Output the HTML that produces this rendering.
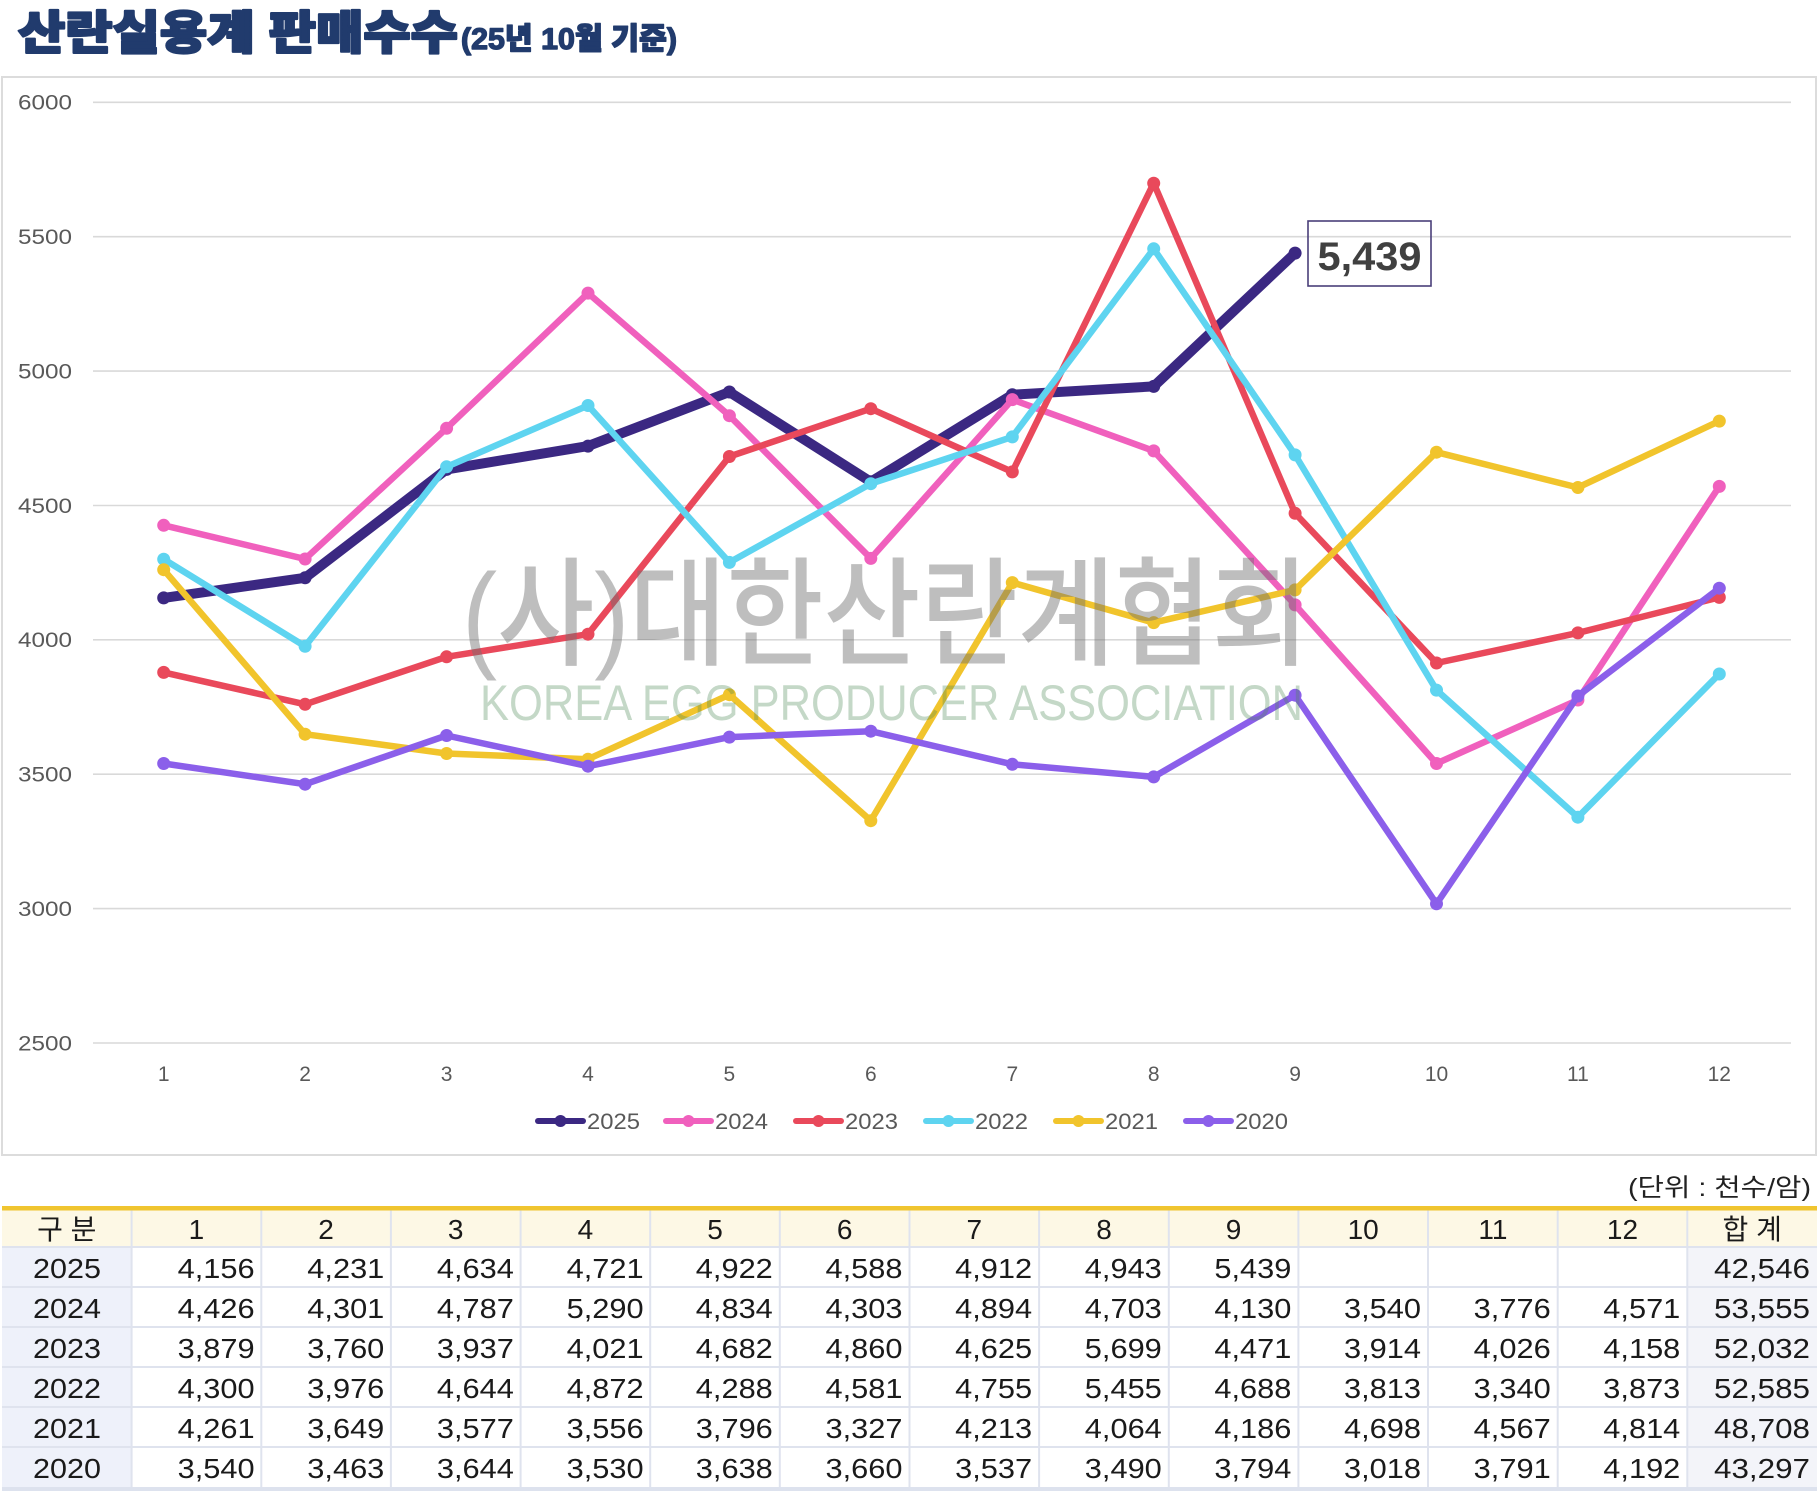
<!DOCTYPE html>
<html><head><meta charset="utf-8"><style>
html,body{margin:0;padding:0;background:#fff;}
svg{display:block;}
.kr{font-family:"Liberation Sans","Noto Sans CJK KR",sans-serif;}
.ax{font-family:"Liberation Sans",sans-serif;font-size:21px;fill:#595959;}
.tb{font-family:"Liberation Sans","Noto Sans CJK KR",sans-serif;font-size:28px;fill:#1a1a1a;}
</style></head><body>
<svg width="1820" height="1498" viewBox="0 0 1820 1498" xmlns="http://www.w3.org/2000/svg">
<rect width="1820" height="1498" fill="#fff"/>
<!-- Title -->
<text class="kr" x="18" y="49" font-size="46" font-weight="900" fill="#213b6d" stroke="#213b6d" stroke-width="2.2" stroke-linejoin="round" textLength="440" lengthAdjust="spacingAndGlyphs">산란실용계 판매수수</text>
<text class="kr" x="461" y="49" font-size="30" font-weight="900" fill="#213b6d" stroke="#213b6d" stroke-width="1.4" stroke-linejoin="round" textLength="216" lengthAdjust="spacingAndGlyphs">(25년 10월 기준)</text>

<!-- Chart box -->
<rect x="2" y="77" width="1814" height="1078" fill="#fff" stroke="#dcdcdc" stroke-width="2"/>

<!-- Gridlines -->
<g stroke="#d9d9d9" stroke-width="1.6">
<line x1="93" y1="102.3" x2="1791" y2="102.3"/>
<line x1="93" y1="236.7" x2="1791" y2="236.7"/>
<line x1="93" y1="371.1" x2="1791" y2="371.1"/>
<line x1="93" y1="505.5" x2="1791" y2="505.5"/>
<line x1="93" y1="639.8" x2="1791" y2="639.8"/>
<line x1="93" y1="774.2" x2="1791" y2="774.2"/>
<line x1="93" y1="908.6" x2="1791" y2="908.6"/>
<line x1="93" y1="1043" x2="1791" y2="1043"/>
</g>
<!-- Y labels -->
<g class="ax" font-size="22">
<text x="18" y="109.5" textLength="54" lengthAdjust="spacingAndGlyphs">6000</text>
<text x="18" y="244" textLength="54" lengthAdjust="spacingAndGlyphs">5500</text>
<text x="18" y="378.5" textLength="54" lengthAdjust="spacingAndGlyphs">5000</text>
<text x="18" y="513" textLength="54" lengthAdjust="spacingAndGlyphs">4500</text>
<text x="18" y="647" textLength="54" lengthAdjust="spacingAndGlyphs">4000</text>
<text x="18" y="781.5" textLength="54" lengthAdjust="spacingAndGlyphs">3500</text>
<text x="18" y="916" textLength="54" lengthAdjust="spacingAndGlyphs">3000</text>
<text x="18" y="1050.5" textLength="54" lengthAdjust="spacingAndGlyphs">2500</text>
</g>
<!-- X labels -->
<g class="ax" text-anchor="middle">
<text x="163.7" y="1081">1</text>
<text x="305.1" y="1081">2</text>
<text x="446.6" y="1081">3</text>
<text x="588" y="1081">4</text>
<text x="729.4" y="1081">5</text>
<text x="870.8" y="1081">6</text>
<text x="1012.3" y="1081">7</text>
<text x="1153.7" y="1081">8</text>
<text x="1295.1" y="1081">9</text>
<text x="1436.5" y="1081">10</text>
<text x="1577.9" y="1081">11</text>
<text x="1719.3" y="1081">12</text>
</g>

<!-- Series -->
<g fill="none" stroke-linejoin="round" stroke-linecap="round">
<!-- 2025 -->
<polyline stroke="#3b2882" stroke-width="10" points="163.7,597.9 305.1,577.8 446.6,469.4 588,446.1 729.4,392 870.8,481.8 1012.3,394.7 1153.7,386.4 1295.1,253.1"/>
<g fill="#3b2882" stroke="none">
<circle cx="163.7" cy="597.9" r="6.5"/><circle cx="305.1" cy="577.8" r="6.5"/><circle cx="446.6" cy="469.4" r="6.5"/><circle cx="588" cy="446.1" r="6.5"/><circle cx="729.4" cy="392" r="6.5"/><circle cx="870.8" cy="481.8" r="6.5"/><circle cx="1012.3" cy="394.7" r="6.5"/><circle cx="1153.7" cy="386.4" r="6.5"/><circle cx="1295.1" cy="253.1" r="6.5"/>
</g>
<!-- 2024 -->
<polyline stroke="#f060bd" stroke-width="6.5" points="163.7,525.3 305.1,559 446.6,428.3 588,293.1 729.4,415.7 870.8,558.4 1012.3,399.6 1153.7,450.9 1295.1,604.9 1436.5,763.5 1577.9,700 1719.3,486.4"/>
<g fill="#f060bd" stroke="none">
<circle cx="163.7" cy="525.3" r="6.5"/><circle cx="305.1" cy="559" r="6.5"/><circle cx="446.6" cy="428.3" r="6.5"/><circle cx="588" cy="293.1" r="6.5"/><circle cx="729.4" cy="415.7" r="6.5"/><circle cx="870.8" cy="558.4" r="6.5"/><circle cx="1012.3" cy="399.6" r="6.5"/><circle cx="1153.7" cy="450.9" r="6.5"/><circle cx="1295.1" cy="604.9" r="6.5"/><circle cx="1436.5" cy="763.5" r="6.5"/><circle cx="1577.9" cy="700" r="6.5"/><circle cx="1719.3" cy="486.4" r="6.5"/>
</g>
<!-- 2023 -->
<polyline stroke="#e9495b" stroke-width="6.5" points="163.7,672.4 305.1,704.3 446.6,656.8 588,634.2 729.4,456.5 870.8,408.7 1012.3,471.9 1153.7,183.2 1295.1,513.3 1436.5,663 1577.9,632.9 1719.3,597.4"/>
<g fill="#e9495b" stroke="none">
<circle cx="163.7" cy="672.4" r="6.5"/><circle cx="305.1" cy="704.3" r="6.5"/><circle cx="446.6" cy="656.8" r="6.5"/><circle cx="588" cy="634.2" r="6.5"/><circle cx="729.4" cy="456.5" r="6.5"/><circle cx="870.8" cy="408.7" r="6.5"/><circle cx="1012.3" cy="471.9" r="6.5"/><circle cx="1153.7" cy="183.2" r="6.5"/><circle cx="1295.1" cy="513.3" r="6.5"/><circle cx="1436.5" cy="663" r="6.5"/><circle cx="1577.9" cy="632.9" r="6.5"/><circle cx="1719.3" cy="597.4" r="6.5"/>
</g>
<!-- 2022 -->
<polyline stroke="#5ed4f0" stroke-width="6.5" points="163.7,559.2 305.1,646.3 446.6,466.8 588,405.5 729.4,562.4 870.8,483.7 1012.3,436.9 1153.7,248.8 1295.1,454.9 1436.5,690.1 1577.9,817.2 1719.3,674"/>
<g fill="#5ed4f0" stroke="none">
<circle cx="163.7" cy="559.2" r="6.5"/><circle cx="305.1" cy="646.3" r="6.5"/><circle cx="446.6" cy="466.8" r="6.5"/><circle cx="588" cy="405.5" r="6.5"/><circle cx="729.4" cy="562.4" r="6.5"/><circle cx="870.8" cy="483.7" r="6.5"/><circle cx="1012.3" cy="436.9" r="6.5"/><circle cx="1153.7" cy="248.8" r="6.5"/><circle cx="1295.1" cy="454.9" r="6.5"/><circle cx="1436.5" cy="690.1" r="6.5"/><circle cx="1577.9" cy="817.2" r="6.5"/><circle cx="1719.3" cy="674" r="6.5"/>
</g>
<!-- 2021 -->
<polyline stroke="#f1c42c" stroke-width="6.5" points="163.7,569.7 305.1,734.2 446.6,753.5 588,759.2 729.4,694.7 870.8,820.7 1012.3,582.6 1153.7,622.6 1295.1,589.9 1436.5,452.2 1577.9,487.5 1719.3,421.1"/>
<g fill="#f1c42c" stroke="none">
<circle cx="163.7" cy="569.7" r="6.5"/><circle cx="305.1" cy="734.2" r="6.5"/><circle cx="446.6" cy="753.5" r="6.5"/><circle cx="588" cy="759.2" r="6.5"/><circle cx="729.4" cy="694.7" r="6.5"/><circle cx="870.8" cy="820.7" r="6.5"/><circle cx="1012.3" cy="582.6" r="6.5"/><circle cx="1153.7" cy="622.6" r="6.5"/><circle cx="1295.1" cy="589.9" r="6.5"/><circle cx="1436.5" cy="452.2" r="6.5"/><circle cx="1577.9" cy="487.5" r="6.5"/><circle cx="1719.3" cy="421.1" r="6.5"/>
</g>
<!-- 2020 -->
<polyline stroke="#8b5fea" stroke-width="6.5" points="163.7,763.5 305.1,784.2 446.6,735.5 588,766.2 729.4,737.1 870.8,731.2 1012.3,764.3 1153.7,776.9 1295.1,695.2 1436.5,903.8 1577.9,696 1719.3,588.2"/>
<g fill="#8b5fea" stroke="none">
<circle cx="163.7" cy="763.5" r="6.5"/><circle cx="305.1" cy="784.2" r="6.5"/><circle cx="446.6" cy="735.5" r="6.5"/><circle cx="588" cy="766.2" r="6.5"/><circle cx="729.4" cy="737.1" r="6.5"/><circle cx="870.8" cy="731.2" r="6.5"/><circle cx="1012.3" cy="764.3" r="6.5"/><circle cx="1153.7" cy="776.9" r="6.5"/><circle cx="1295.1" cy="695.2" r="6.5"/><circle cx="1436.5" cy="903.8" r="6.5"/><circle cx="1577.9" cy="696" r="6.5"/><circle cx="1719.3" cy="588.2" r="6.5"/>
</g>
</g>

<!-- Watermark -->
<text class="kr" x="462" y="656" font-size="118" font-weight="500" fill="#6e6e6e" fill-opacity="0.45" textLength="847" lengthAdjust="spacingAndGlyphs">(사)대한산란계협회</text>
<text x="480" y="720" font-family="Liberation Sans, sans-serif" font-size="50" fill="#4d8a55" fill-opacity="0.33" textLength="823" lengthAdjust="spacingAndGlyphs">KOREA EGG PRODUCER ASSOCIATION</text>

<!-- Annotation -->
<rect x="1308" y="221" width="123" height="65" fill="none" stroke="#4a3f7a" stroke-width="1.6"/>
<text x="1369.5" y="270" text-anchor="middle" font-family="Liberation Sans, sans-serif" font-weight="bold" font-size="40" fill="#404040" textLength="104" lengthAdjust="spacingAndGlyphs">5,439</text>

<!-- Legend -->
<g stroke-linecap="round" stroke-width="6">
<line x1="538" y1="1121" x2="583" y2="1121" stroke="#3b2882"/><circle cx="560.5" cy="1121" r="6" fill="#3b2882"/>
<line x1="666" y1="1121" x2="711" y2="1121" stroke="#f060bd"/><circle cx="688.5" cy="1121" r="6" fill="#f060bd"/>
<line x1="796" y1="1121" x2="841" y2="1121" stroke="#e9495b"/><circle cx="818.5" cy="1121" r="6" fill="#e9495b"/>
<line x1="926" y1="1121" x2="971" y2="1121" stroke="#5ed4f0"/><circle cx="948.5" cy="1121" r="6" fill="#5ed4f0"/>
<line x1="1056" y1="1121" x2="1101" y2="1121" stroke="#f1c42c"/><circle cx="1078.5" cy="1121" r="6" fill="#f1c42c"/>
<line x1="1186" y1="1121" x2="1231" y2="1121" stroke="#8b5fea"/><circle cx="1208.5" cy="1121" r="6" fill="#8b5fea"/>
</g>
<g font-family="Liberation Sans, sans-serif" font-size="22" fill="#595959">
<text x="587" y="1129" textLength="53" lengthAdjust="spacingAndGlyphs">2025</text>
<text x="715" y="1129" textLength="53" lengthAdjust="spacingAndGlyphs">2024</text>
<text x="845" y="1129" textLength="53" lengthAdjust="spacingAndGlyphs">2023</text>
<text x="975" y="1129" textLength="53" lengthAdjust="spacingAndGlyphs">2022</text>
<text x="1105" y="1129" textLength="53" lengthAdjust="spacingAndGlyphs">2021</text>
<text x="1235" y="1129" textLength="53" lengthAdjust="spacingAndGlyphs">2020</text>
</g>

<!-- Unit -->
<text class="kr" x="1628" y="1196" font-size="25" fill="#222" textLength="183" lengthAdjust="spacingAndGlyphs">(단위 : 천수/암)</text>

<!-- Table backgrounds -->
<rect x="2" y="1210" width="1815" height="37" fill="#fdf8e5"/>
<rect x="2" y="1247" width="129.6" height="240" fill="#eef1fa"/>
<rect x="1687.3" y="1247" width="129.7" height="240" fill="#f3f4f9"/>
<!-- grid -->
<g stroke="#dfe3ee" stroke-width="2">
<line x1="2" y1="1247" x2="1817" y2="1247"/>
<line x1="2" y1="1287" x2="1817" y2="1287"/>
<line x1="2" y1="1327" x2="1817" y2="1327"/>
<line x1="2" y1="1367" x2="1817" y2="1367"/>
<line x1="2" y1="1407" x2="1817" y2="1407"/>
<line x1="2" y1="1447" x2="1817" y2="1447"/>
<line x1="131.6" y1="1210" x2="131.6" y2="1487"/>
<line x1="261.3" y1="1210" x2="261.3" y2="1487"/>
<line x1="390.9" y1="1210" x2="390.9" y2="1487"/>
<line x1="520.6" y1="1210" x2="520.6" y2="1487"/>
<line x1="650.2" y1="1210" x2="650.2" y2="1487"/>
<line x1="779.8" y1="1210" x2="779.8" y2="1487"/>
<line x1="909.5" y1="1210" x2="909.5" y2="1487"/>
<line x1="1039.1" y1="1210" x2="1039.1" y2="1487"/>
<line x1="1168.8" y1="1210" x2="1168.8" y2="1487"/>
<line x1="1298.4" y1="1210" x2="1298.4" y2="1487"/>
<line x1="1428" y1="1210" x2="1428" y2="1487"/>
<line x1="1557.7" y1="1210" x2="1557.7" y2="1487"/>
<line x1="1687.3" y1="1210" x2="1687.3" y2="1487"/>
</g>
<rect x="2" y="1487" width="1815" height="4" fill="#dde2ee"/>
<rect x="2" y="1206" width="1815" height="4.5" fill="#f0c530"/>

<!-- Header text -->
<g class="tb" text-anchor="middle">
<text x="66.8" y="1239">구 분</text>
<text x="196.4" y="1239">1</text>
<text x="326.1" y="1239">2</text>
<text x="455.7" y="1239">3</text>
<text x="585.4" y="1239">4</text>
<text x="715" y="1239">5</text>
<text x="844.7" y="1239">6</text>
<text x="974.3" y="1239">7</text>
<text x="1104" y="1239">8</text>
<text x="1233.6" y="1239">9</text>
<text x="1363.2" y="1239">10</text>
<text x="1492.9" y="1239">11</text>
<text x="1622.5" y="1239">12</text>
<text x="1752.2" y="1239">합 계</text>
</g>

<!-- Year labels -->
<g class="tb">
<text x="33" y="1278" textLength="68" lengthAdjust="spacingAndGlyphs">2025</text>
<text x="33" y="1318" textLength="68" lengthAdjust="spacingAndGlyphs">2024</text>
<text x="33" y="1358" textLength="68" lengthAdjust="spacingAndGlyphs">2023</text>
<text x="33" y="1398" textLength="68" lengthAdjust="spacingAndGlyphs">2022</text>
<text x="33" y="1438" textLength="68" lengthAdjust="spacingAndGlyphs">2021</text>
<text x="33" y="1478" textLength="68" lengthAdjust="spacingAndGlyphs">2020</text>
</g>

<!-- Data cells -->
<g class="tb">
<!-- 2025 -->
<text x="177.6" y="1278" textLength="77" lengthAdjust="spacingAndGlyphs">4,156</text>
<text x="307.3" y="1278" textLength="77" lengthAdjust="spacingAndGlyphs">4,231</text>
<text x="436.9" y="1278" textLength="77" lengthAdjust="spacingAndGlyphs">4,634</text>
<text x="566.6" y="1278" textLength="77" lengthAdjust="spacingAndGlyphs">4,721</text>
<text x="695.8" y="1278" textLength="77" lengthAdjust="spacingAndGlyphs">4,922</text>
<text x="825.5" y="1278" textLength="77" lengthAdjust="spacingAndGlyphs">4,588</text>
<text x="955.1" y="1278" textLength="77" lengthAdjust="spacingAndGlyphs">4,912</text>
<text x="1084.8" y="1278" textLength="77" lengthAdjust="spacingAndGlyphs">4,943</text>
<text x="1214.4" y="1278" textLength="77" lengthAdjust="spacingAndGlyphs">5,439</text>
<text x="1714" y="1278" textLength="96" lengthAdjust="spacingAndGlyphs">42,546</text>
<!-- 2024 -->
<text x="177.6" y="1318" textLength="77" lengthAdjust="spacingAndGlyphs">4,426</text>
<text x="307.3" y="1318" textLength="77" lengthAdjust="spacingAndGlyphs">4,301</text>
<text x="436.9" y="1318" textLength="77" lengthAdjust="spacingAndGlyphs">4,787</text>
<text x="566.6" y="1318" textLength="77" lengthAdjust="spacingAndGlyphs">5,290</text>
<text x="695.8" y="1318" textLength="77" lengthAdjust="spacingAndGlyphs">4,834</text>
<text x="825.5" y="1318" textLength="77" lengthAdjust="spacingAndGlyphs">4,303</text>
<text x="955.1" y="1318" textLength="77" lengthAdjust="spacingAndGlyphs">4,894</text>
<text x="1084.8" y="1318" textLength="77" lengthAdjust="spacingAndGlyphs">4,703</text>
<text x="1214.4" y="1318" textLength="77" lengthAdjust="spacingAndGlyphs">4,130</text>
<text x="1344" y="1318" textLength="77" lengthAdjust="spacingAndGlyphs">3,540</text>
<text x="1473.7" y="1318" textLength="77" lengthAdjust="spacingAndGlyphs">3,776</text>
<text x="1603.3" y="1318" textLength="77" lengthAdjust="spacingAndGlyphs">4,571</text>
<text x="1714" y="1318" textLength="96" lengthAdjust="spacingAndGlyphs">53,555</text>
<!-- 2023 -->
<text x="177.6" y="1358" textLength="77" lengthAdjust="spacingAndGlyphs">3,879</text>
<text x="307.3" y="1358" textLength="77" lengthAdjust="spacingAndGlyphs">3,760</text>
<text x="436.9" y="1358" textLength="77" lengthAdjust="spacingAndGlyphs">3,937</text>
<text x="566.6" y="1358" textLength="77" lengthAdjust="spacingAndGlyphs">4,021</text>
<text x="695.8" y="1358" textLength="77" lengthAdjust="spacingAndGlyphs">4,682</text>
<text x="825.5" y="1358" textLength="77" lengthAdjust="spacingAndGlyphs">4,860</text>
<text x="955.1" y="1358" textLength="77" lengthAdjust="spacingAndGlyphs">4,625</text>
<text x="1084.8" y="1358" textLength="77" lengthAdjust="spacingAndGlyphs">5,699</text>
<text x="1214.4" y="1358" textLength="77" lengthAdjust="spacingAndGlyphs">4,471</text>
<text x="1344" y="1358" textLength="77" lengthAdjust="spacingAndGlyphs">3,914</text>
<text x="1473.7" y="1358" textLength="77" lengthAdjust="spacingAndGlyphs">4,026</text>
<text x="1603.3" y="1358" textLength="77" lengthAdjust="spacingAndGlyphs">4,158</text>
<text x="1714" y="1358" textLength="96" lengthAdjust="spacingAndGlyphs">52,032</text>
<!-- 2022 -->
<text x="177.6" y="1398" textLength="77" lengthAdjust="spacingAndGlyphs">4,300</text>
<text x="307.3" y="1398" textLength="77" lengthAdjust="spacingAndGlyphs">3,976</text>
<text x="436.9" y="1398" textLength="77" lengthAdjust="spacingAndGlyphs">4,644</text>
<text x="566.6" y="1398" textLength="77" lengthAdjust="spacingAndGlyphs">4,872</text>
<text x="695.8" y="1398" textLength="77" lengthAdjust="spacingAndGlyphs">4,288</text>
<text x="825.5" y="1398" textLength="77" lengthAdjust="spacingAndGlyphs">4,581</text>
<text x="955.1" y="1398" textLength="77" lengthAdjust="spacingAndGlyphs">4,755</text>
<text x="1084.8" y="1398" textLength="77" lengthAdjust="spacingAndGlyphs">5,455</text>
<text x="1214.4" y="1398" textLength="77" lengthAdjust="spacingAndGlyphs">4,688</text>
<text x="1344" y="1398" textLength="77" lengthAdjust="spacingAndGlyphs">3,813</text>
<text x="1473.7" y="1398" textLength="77" lengthAdjust="spacingAndGlyphs">3,340</text>
<text x="1603.3" y="1398" textLength="77" lengthAdjust="spacingAndGlyphs">3,873</text>
<text x="1714" y="1398" textLength="96" lengthAdjust="spacingAndGlyphs">52,585</text>
<!-- 2021 -->
<text x="177.6" y="1438" textLength="77" lengthAdjust="spacingAndGlyphs">4,261</text>
<text x="307.3" y="1438" textLength="77" lengthAdjust="spacingAndGlyphs">3,649</text>
<text x="436.9" y="1438" textLength="77" lengthAdjust="spacingAndGlyphs">3,577</text>
<text x="566.6" y="1438" textLength="77" lengthAdjust="spacingAndGlyphs">3,556</text>
<text x="695.8" y="1438" textLength="77" lengthAdjust="spacingAndGlyphs">3,796</text>
<text x="825.5" y="1438" textLength="77" lengthAdjust="spacingAndGlyphs">3,327</text>
<text x="955.1" y="1438" textLength="77" lengthAdjust="spacingAndGlyphs">4,213</text>
<text x="1084.8" y="1438" textLength="77" lengthAdjust="spacingAndGlyphs">4,064</text>
<text x="1214.4" y="1438" textLength="77" lengthAdjust="spacingAndGlyphs">4,186</text>
<text x="1344" y="1438" textLength="77" lengthAdjust="spacingAndGlyphs">4,698</text>
<text x="1473.7" y="1438" textLength="77" lengthAdjust="spacingAndGlyphs">4,567</text>
<text x="1603.3" y="1438" textLength="77" lengthAdjust="spacingAndGlyphs">4,814</text>
<text x="1714" y="1438" textLength="96" lengthAdjust="spacingAndGlyphs">48,708</text>
<!-- 2020 -->
<text x="177.6" y="1478" textLength="77" lengthAdjust="spacingAndGlyphs">3,540</text>
<text x="307.3" y="1478" textLength="77" lengthAdjust="spacingAndGlyphs">3,463</text>
<text x="436.9" y="1478" textLength="77" lengthAdjust="spacingAndGlyphs">3,644</text>
<text x="566.6" y="1478" textLength="77" lengthAdjust="spacingAndGlyphs">3,530</text>
<text x="695.8" y="1478" textLength="77" lengthAdjust="spacingAndGlyphs">3,638</text>
<text x="825.5" y="1478" textLength="77" lengthAdjust="spacingAndGlyphs">3,660</text>
<text x="955.1" y="1478" textLength="77" lengthAdjust="spacingAndGlyphs">3,537</text>
<text x="1084.8" y="1478" textLength="77" lengthAdjust="spacingAndGlyphs">3,490</text>
<text x="1214.4" y="1478" textLength="77" lengthAdjust="spacingAndGlyphs">3,794</text>
<text x="1344" y="1478" textLength="77" lengthAdjust="spacingAndGlyphs">3,018</text>
<text x="1473.7" y="1478" textLength="77" lengthAdjust="spacingAndGlyphs">3,791</text>
<text x="1603.3" y="1478" textLength="77" lengthAdjust="spacingAndGlyphs">4,192</text>
<text x="1714" y="1478" textLength="96" lengthAdjust="spacingAndGlyphs">43,297</text>
</g>
</svg>
</body></html>
